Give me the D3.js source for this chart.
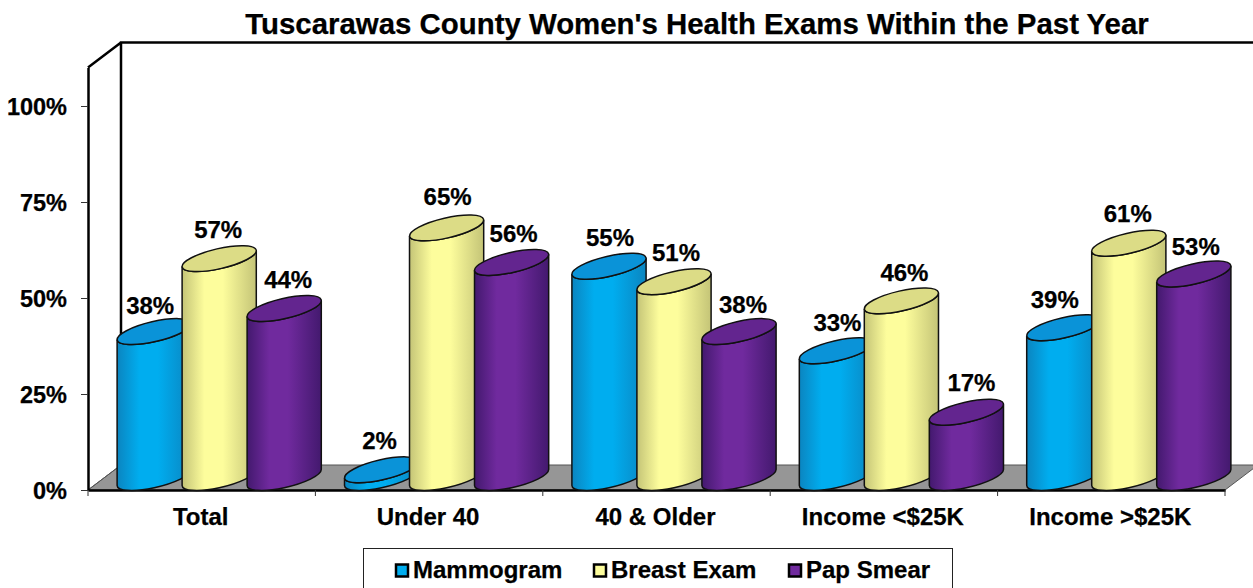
<!DOCTYPE html>
<html>
<head>
<meta charset="utf-8">
<script src="https://cdn.jsdelivr.net/npm/d3@7"></script>
<style>
html, body { margin: 0; padding: 0; background: #fff; }
svg { display: block; }
text { font-family: "Liberation Sans", Arial, sans-serif; font-weight: bold; fill: #000; stroke: #000; stroke-width: 0.25px; }
</style>
</head>
<body>
<svg id="chart" width="1253" height="588"></svg>
<script>
var categories = ['Total', 'Under 40', '40 & Older', 'Income <$25K', 'Income >$25K'];
var seriesNames = ['Mammogram', 'Breast Exam', 'Pap Smear'];
var mammogram = [38, 2, 55, 33, 39];
var breastExam = [57, 65, 51, 46, 61];
var papSmear = [44, 56, 38, 17, 53];
var yTicks = [0, 25, 50, 75, 100];

// edge, middle, top face for each series
var edgeColors = ['#0b85c0', '#c4c477', '#43196e'];
var midColors = ['#00adef', '#fdfd9c', '#702a9e'];
var topColors = ['#0a93d8', '#dcdc86', '#63258f'];

// small per label nudges, the original chart placed these by hand
var labelDx = [[-3, -1, 2, 2, -8], [0, 2, 3, 4, 0], [5, 3, 5, 6, 3]];
var labelDy = [[3, 0, 1, 1, 1], [0, -2, 0, 1, 0], [0, 1, 2, 0, 2]];

var values = [mammogram, breastExam, papSmear];

var svg = d3.select('#chart'),
	margin = {left: 88, right: 1225, top: 67.6, bottom: 490},
	depthX = 33,
	depthY = 25;

var x = d3.scaleBand().domain(categories).range([margin.left, margin.right]);
var x1 = d3.scaleBand().domain(seriesNames).range([-96.5, 98.5]);
var y = d3.scaleLinear().domain([0, 110]).range([margin.bottom, margin.top]);

// cylinder top and bottom are tilted ellipses
var rx = 38, ry = 10, tilt = -13;
var rad = tilt * Math.PI / 180;
var t0 = Math.atan2(-ry * Math.tan(rad), rx);
var edgeX = rx * Math.cos(t0) * Math.cos(rad) - ry * Math.sin(t0) * Math.sin(rad);
var edgeY = rx * Math.cos(t0) * Math.sin(rad) + ry * Math.sin(t0) * Math.cos(rad);

var defs = svg.append('defs');
seriesNames.forEach(function(name, i) {
	var g = defs.append('linearGradient').attr('id', 'cyl' + i);
	g.append('stop').attr('offset', '0%').attr('stop-color', edgeColors[i]);
	g.append('stop').attr('offset', '30%').attr('stop-color', midColors[i]);
	g.append('stop').attr('offset', '55%').attr('stop-color', midColors[i]);
	g.append('stop').attr('offset', '100%').attr('stop-color', edgeColors[i]);
});

// floor
var floor = d3.path();
floor.moveTo(margin.left, margin.bottom);
floor.lineTo(margin.left + depthX, margin.bottom - depthY);
floor.lineTo(margin.right + depthX, margin.bottom - depthY);
floor.lineTo(margin.right, margin.bottom);
floor.closePath();
svg.append('path').attr('d', floor.toString())
	.attr('fill', '#969696').attr('stroke', '#555').attr('stroke-width', 1);

// walls
var wall = d3.path();
wall.moveTo(margin.left + depthX, margin.bottom - depthY);
wall.lineTo(margin.left + depthX, y(110) - depthY);
wall.lineTo(1253, y(110) - depthY);
wall.moveTo(margin.left + depthX, y(110) - depthY);
wall.lineTo(margin.left, y(110));
svg.append('path').attr('d', wall.toString())
	.attr('fill', 'none').attr('stroke', '#000').attr('stroke-width', 2.5);
svg.append('line')
	.attr('x1', margin.left).attr('x2', margin.left + depthX)
	.attr('y1', margin.bottom).attr('y2', margin.bottom - depthY)
	.attr('stroke', '#555').attr('stroke-width', 1);

// y axis
var yAxis = svg.append('g')
	.attr('transform', 'translate(' + margin.left + ',0)')
	.call(d3.axisLeft(y).tickValues(yTicks).tickSize(7).tickSizeOuter(0).tickPadding(14).tickFormat(function(d) { return d + '%'; }));
yAxis.select('.domain').attr('stroke', '#000').attr('stroke-width', 2.5);
yAxis.selectAll('.tick line').attr('stroke', '#333').attr('stroke-width', 1);
yAxis.selectAll('text').attr('y', 1).style('font-size', '23.5px');

// x axis, ticks sit between the bands
var xAxis = svg.append('g')
	.attr('transform', 'translate(0,' + margin.bottom + ')')
	.call(d3.axisBottom(x).tickSize(0).tickSizeOuter(0).tickPadding(18));
xAxis.select('.domain').attr('stroke', '#000').attr('stroke-width', 2.5);
xAxis.selectAll('text').attr('x', -1).style('font-size', '24px');
xAxis.selectAll('.edge').data(d3.range(categories.length + 1)).enter().append('line')
	.attr('class', 'edge')
	.attr('x1', function(d) { return margin.left + d * x.step(); })
	.attr('x2', function(d) { return margin.left + d * x.step(); })
	.attr('y1', 0).attr('y2', 6)
	.attr('stroke', '#333').attr('stroke-width', 1);

function bodyPath(cx, yTop, yBase) {
	return 'M' + (cx - edgeX) + ',' + (yTop - edgeY) +
		'L' + (cx - edgeX) + ',' + (yBase - edgeY) +
		'A' + rx + ',' + ry + ' ' + tilt + ' 0 0 ' + (cx + edgeX) + ',' + (yBase + edgeY) +
		'L' + (cx + edgeX) + ',' + (yTop + edgeY) +
		'A' + rx + ',' + ry + ' ' + tilt + ' 0 1 ' + (cx - edgeX) + ',' + (yTop - edgeY) + 'Z';
}

// cylinders, left to right so each one overlaps the one before
var yBase = y(0) - depthY / 2;
categories.forEach(function(cat, c) {
	var group = svg.append('g').attr('class', 'group');
	seriesNames.forEach(function(name, s) {
		var cx = x(cat) + x.bandwidth() / 2 + depthX / 2 + x1(name) + x1.bandwidth() / 2;
		var yTop = y(values[s][c]) - depthY / 2;
		group.append('path').attr('d', bodyPath(cx, yTop, yBase))
			.attr('fill', 'url(#cyl' + s + ')')
			.attr('stroke', '#111').attr('stroke-width', 1.5);
		group.append('ellipse')
			.attr('rx', rx).attr('ry', ry)
			.attr('transform', 'translate(' + cx + ',' + yTop + ') rotate(' + tilt + ')')
			.attr('fill', topColors[s])
			.attr('stroke', '#111').attr('stroke-width', 1.5);
	});
});

// value labels go on top of every cylinder
categories.forEach(function(cat, c) {
	seriesNames.forEach(function(name, s) {
		var cx = x(cat) + x.bandwidth() / 2 + depthX / 2 + x1(name) + x1.bandwidth() / 2;
		svg.append('text')
			.attr('x', cx + labelDx[s][c] - 1)
			.attr('y', y(values[s][c]) - depthY / 2 - 21 + labelDy[s][c])
			.attr('text-anchor', 'middle')
			.style('font-size', '24px')
			.text(values[s][c] + '%');
	});
});

// title
svg.append('text')
	.attr('x', 697).attr('y', 34)
	.attr('text-anchor', 'middle')
	.style('font-size', '29.4px')
	.text("Tuscarawas County Women's Health Exams Within the Past Year");

// legend
svg.append('rect')
	.attr('x', 363.5).attr('y', 548.5).attr('width', 589).attr('height', 45)
	.attr('fill', '#fff').attr('stroke', '#222').attr('stroke-width', 1);
var legendX = d3.scaleOrdinal().domain(seriesNames).range([396, 594, 789]);
seriesNames.forEach(function(name, s) {
	svg.append('rect')
		.attr('x', legendX(name)).attr('y', 564.5)
		.attr('width', 12).attr('height', 12)
		.attr('fill', midColors[s]).attr('stroke', '#000').attr('stroke-width', 2.5);
	svg.append('text')
		.attr('x', legendX(name) + 17).attr('y', 578)
		.style('font-size', '24px')
		.text(name);
});
</script>
</body>
</html>
